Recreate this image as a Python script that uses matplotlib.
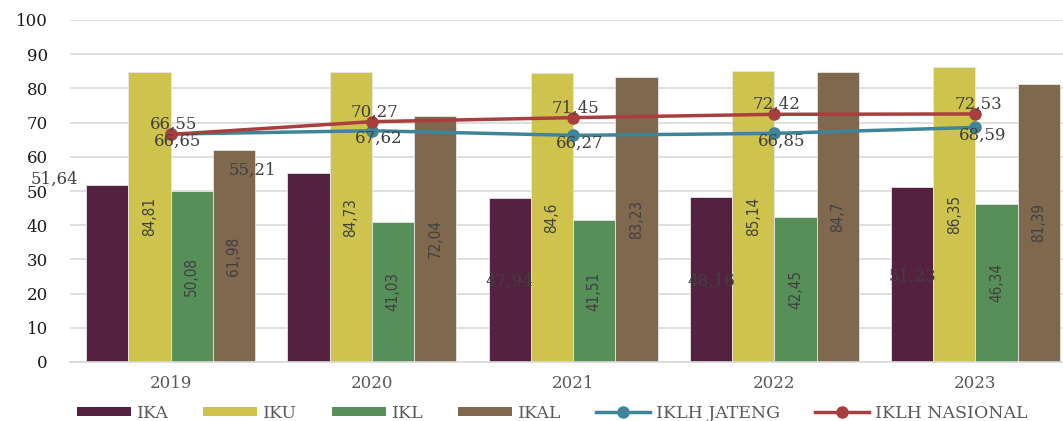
import numpy as np
import matplotlib.pyplot as plt
from matplotlib.patches import Patch
from matplotlib.lines import Line2D

# ============================================
# DATA
# ============================================
years = ['2019', '2020', '2021', '2022', '2023']
ika = [51.64, 55.21, 47.94, 48.16, 51.23]
iku = [84.81, 84.73, 84.6, 85.14, 86.35]
ikl = [50.08, 41.03, 41.51, 42.45, 46.34]
ikal = [61.98, 72.04, 83.23, 84.7, 81.39]
iklh_jateng = [66.65, 67.62, 66.27, 66.85, 68.59]
iklh_nasional = [66.55, 70.27, 71.45, 72.42, 72.53]

bar_series = [('IKA', ika, '#552140'), ('IKU', iku, '#CEC34C'),
              ('IKL', ikl, '#578F59'), ('IKAL', ikal, '#80684E')]
c_jateng = '#3F8599'
c_nas = '#A83E3E'
txt = '#404040'

serif = ['DejaVu Serif']
fs = 12

def fmt(v):
    return f'{v:g}'.replace('.', ',')

# ============================================
# PLOT
# ============================================
fig = plt.figure(figsize=(10.63, 4.21), dpi=100)
ax = fig.add_axes([70 / 1063, 59 / 421, 993 / 1063, 342 / 421])

x = np.arange(len(years))
w = 0.21
offsets = [-1.5, -0.5, 0.5, 1.5]
ika_shift = [(-38, 4.5), (-40, 2)]  # first two IKA labels sit left of the bar

for (name, vals, col), off in zip(bar_series, offsets):
    bx = x + off * w
    ax.bar(bx, vals, width=w, color=col, edgecolor='#E6E6E6', linewidth=0.6, zorder=2)
    if name == 'IKA':
        for i, v in enumerate(vals):
            if i < 2:
                ax.annotate(fmt(v), (bx[i], v), xytext=ika_shift[i], textcoords='offset points',
                            ha='center', va='center', fontsize=fs, color=txt, family=serif)
            else:
                ax.text(bx[i], v / 2 - 0.5, fmt(v), ha='center', va='center',
                        fontsize=fs, color=txt, family=serif, zorder=4)
    else:
        for i, v in enumerate(vals):
            ax.text(bx[i], v / 2, fmt(v), ha='center', va='center', rotation=90,
                    fontsize=11, color=txt, family='DejaVu Sans',
                    fontstretch='condensed', zorder=4)

ax.plot(x, iklh_jateng, color=c_jateng, lw=2.5, marker='o', ms=8, zorder=3)
ax.plot(x, iklh_nasional, color=c_nas, lw=2.5, marker='o', ms=8, zorder=3)
for i in range(len(years)):
    ax.annotate(fmt(iklh_nasional[i]), (x[i], iklh_nasional[i]), xytext=(2, 7),
                textcoords='offset points', ha='center', va='center',
                fontsize=fs, color=txt, family=serif, zorder=5)
    ax.annotate(fmt(iklh_jateng[i]), (x[i], iklh_jateng[i]), xytext=(5, -5.5),
                textcoords='offset points', ha='center', va='center',
                fontsize=fs, color=txt, family=serif, zorder=5)

ax.set_xlim(-0.5, 4.435)
ax.set_ylim(0, 100)
ax.set_yticks(range(0, 101, 10))
ax.set_xticks(x)
ax.set_xticklabels(years)
ax.grid(axis='y', color='#D9D9D9', lw=1.2, zorder=0)
ax.set_axisbelow(True)
for s in ['left', 'right', 'top']:
    ax.spines[s].set_visible(False)
ax.spines['bottom'].set_color('#D9D9D9')
ax.spines['bottom'].set_linewidth(1.2)
ax.tick_params(axis='both', length=0, labelsize=fs, labelcolor=txt)
ax.tick_params(axis='x', pad=9, labelcolor='#595959')
ax.tick_params(axis='y', pad=16, labelcolor='#1a1a1a')
for lab in ax.get_xticklabels() + ax.get_yticklabels():
    lab.set_family(serif)

handles = [Patch(facecolor=c, label=n) for n, _, c in bar_series]
handles += [Line2D([0], [0], color=c_jateng, lw=2.5, marker='o', ms=8, label='IKLH JATENG'),
            Line2D([0], [0], color=c_nas, lw=2.5, marker='o', ms=8, label='IKLH NASIONAL')]
fig.legend(handles=handles, loc='center', bbox_to_anchor=(552 / 1063, 1 - 413 / 421),
           ncol=6, frameon=False, prop={'family': serif, 'size': 12.5},
           labelcolor='#595959', handlelength=3.1, handleheight=0.45,
           handletextpad=0.35, columnspacing=2.0, borderpad=0.1)

plt.savefig('out.png', dpi=100)
